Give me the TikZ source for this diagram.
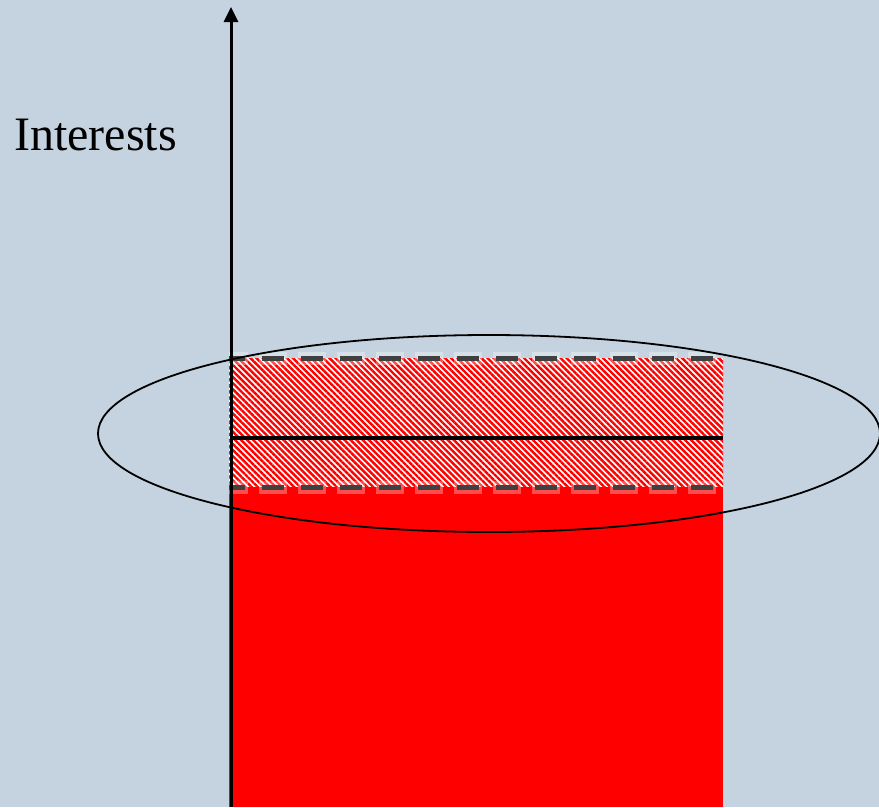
\documentclass[tikz,border=0pt]{standalone}
\usepackage{fontspec}
\setmainfont{Liberation Serif}
\usetikzlibrary{arrows.meta,patterns.meta}
\definecolor{bgblue}{RGB}{197,211,224}
\definecolor{dashgray}{RGB}{64,64,64}
\tikzset{
  axisline/.style={line width=3pt,-{Triangle[width=14pt,length=15pt]}},
  dashrule/.style={dashgray,line width=5pt,dash pattern=on 22pt off 17pt,dash phase=6pt},
  dashglow/.style={white,opacity=0.3,line width=13pt,dash pattern=on 28pt off 11pt,dash phase=9pt},
  midrule/.style={black,line width=3.5pt},
  ring/.style={black,line width=1.8pt}
}
\begin{document}
\begin{tikzpicture}[x=1pt,y=-1pt]
\useasboundingbox[fill=bgblue] (0,0) rectangle (879,807);
% solid red block
\fill[red] (229,487) rectangle (723,807);
% hatched block
\fill[white] (229,358) rectangle (723,487);
\fill[pattern={Lines[angle=-45,distance=4.3pt,line width=2.4pt]},pattern color=red] (229,358) rectangle (723,487);
% dashed borders with glow
\draw[dashglow] (229,358) -- (723,358);
\draw[dashglow] (229,487) -- (723,487);
\draw[dashrule] (229,358) -- (723,358);
\draw[dashrule] (229,487) -- (723,487);
% middle line
\draw[midrule] (231,438) -- (723,438);
% axis
\coordinate (axbot) at (231,807);
\coordinate (axtop) at (231,7);
\draw[axisline] (axbot) -- (axtop);
% ellipse
\draw[ring] (489,433.5) ellipse [x radius=391, y radius=98.5];
% label
\node[anchor=base west,inner sep=0pt,font=\fontsize{48}{50}\selectfont] (lbl) at (14,150) {Interests};
\end{tikzpicture}
\end{document}
